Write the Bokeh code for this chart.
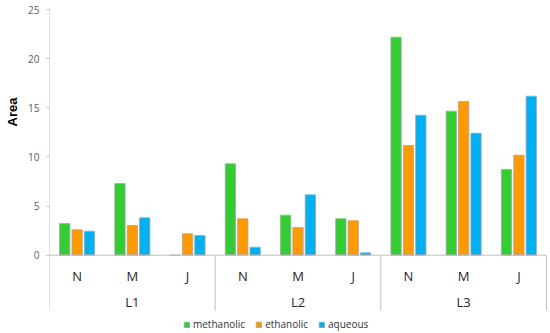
from bokeh.plotting import figure
from bokeh.models import ColumnDataSource, FixedTicker, Legend, LegendItem, Range1d, Title
from bokeh.core.properties import value
from bokeh.embed import file_html
from bokeh.resources import INLINE

# ---- data ----
locations = ["L1", "L2", "L3"]
months = ["N", "M", "J"]
series = ["methanolic", "ethanolic", "aqueous"]
methanolic = [3.22, 7.29, 0.0, 9.30, 4.07, 3.70, 22.18, 14.65, 8.72]
ethanolic = [2.58, 3.02, 2.17, 3.70, 2.82, 3.50, 11.16, 15.64, 10.17]
aqueous = [2.44, 3.80, 2.00, 0.81, 6.14, 0.24, 14.24, 12.41, 16.18]
y_ticks = [0, 5, 10, 15, 20, 25]
y_title = "Area"

# ---- style ----
colors = ["#33CC33", "#FF9900", "#00B0F0"]
axis_gray = "#BFBFBF"
FONT = "Open Sans"

n_cat = len(locations) * len(months)
x_center = [i + 0.5 for i in range(n_cat)]
y_top = y_ticks[-1]
y_bottom_sep = -5.63
y_cat_label = -2.13
y_grp_label = -4.74

p = figure(width=550, height=333, output_backend="svg", toolbar_location=None,
           x_range=Range1d(0, n_cat + 0.036), y_range=Range1d(-7.967, 25.916),
           min_border_left=49, min_border_right=2, min_border_top=0, min_border_bottom=0)
p.outline_line_color = None
p.xgrid.visible = False
p.ygrid.visible = False
p.xaxis.visible = False
p.background_fill_color = "white"
p.border_fill_color = "white"

ya = p.yaxis[0]
ya.ticker = FixedTicker(ticks=y_ticks)
ya.axis_line_color = None
ya.major_tick_out = 3
ya.major_tick_in = 0
ya.major_tick_line_color = axis_gray
ya.minor_tick_line_color = None
ya.major_label_text_font = FONT
ya.major_label_text_font_size = "10px"
ya.major_label_text_color = "#595959"
ya.major_label_standoff = 7

p.add_layout(Title(text=y_title, align="right", offset=97, standoff=7,
                   vertical_align="top",
                   text_font="Liberation Sans", text_font_style="bold",
                   text_font_size="13px", text_color="#000000"), "left")

# bars
bar_w = 0.187
offsets = [-0.224, 0.0, 0.224]
items = []
for name, vals, col, off in zip(series, [methanolic, ethanolic, aqueous], colors, offsets):
    src = ColumnDataSource(dict(x=[c + off for c in x_center], top=vals))
    r = p.vbar(x="x", top="top", bottom=0, width=bar_w, source=src,
               fill_color=col, line_color="#A6A6A6", line_width=0.8)
    items.append(LegendItem(label=name, renderers=[r]))

# axis lines and separators
n_grp = len(locations)
grp_w = len(months)
p.segment(x0=[0], y0=[y_top], x1=[0], y1=[y_bottom_sep], line_color=axis_gray, line_width=1)
p.segment(x0=[0], y0=[0], x1=[n_cat], y1=[0], line_color=axis_gray, line_width=1)
seps = [grp_w * (k + 1) for k in range(n_grp)]
p.segment(x0=seps, y0=[0] * n_grp, x1=seps, y1=[y_bottom_sep] * n_grp,
          line_color=axis_gray, line_width=1)

# category labels
cat_src = ColumnDataSource(dict(x=x_center, y=[y_cat_label] * n_cat,
                                t=[months[i % grp_w] for i in range(n_cat)]))
p.text(x="x", y="y", text="t", source=cat_src, text_font=value(FONT),
       text_font_size="13px", text_color="#262626", text_align="center",
       text_baseline="middle")
grp_src = ColumnDataSource(dict(x=[grp_w * k + grp_w / 2 for k in range(n_grp)],
                                y=[y_grp_label] * n_grp, t=locations))
p.text(x="x", y="y", text="t", source=grp_src, text_font=value(FONT),
       text_font_size="13px", text_color="#262626", text_align="center",
       text_baseline="middle")

legend = Legend(items=items, orientation="horizontal", location=(134, 2),
                glyph_width=7, glyph_height=7, label_height=10, label_standoff=3,
                spacing=10, padding=0, margin=0,
                label_text_font=FONT, label_text_font_size="10px",
                label_text_color="#333333",
                border_line_color=None, background_fill_alpha=0)
p.add_layout(legend, "center")

open("out.html", "w").write(file_html(p, INLINE))
